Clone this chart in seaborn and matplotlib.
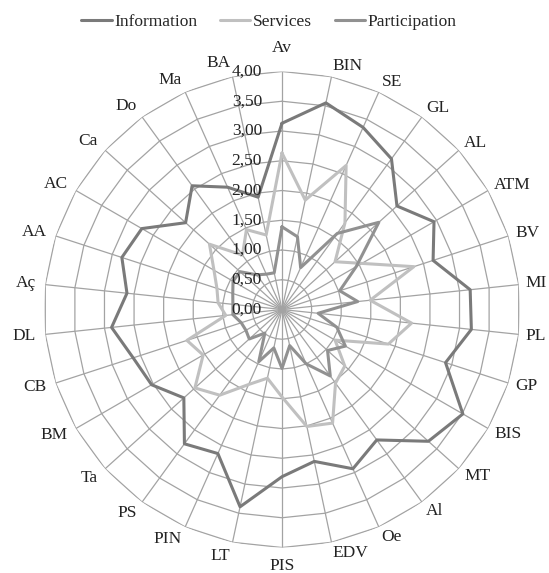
import numpy as np
import pandas as pd
import matplotlib
matplotlib.use("Agg")
import matplotlib.pyplot as plt
from matplotlib.lines import Line2D
import seaborn as sns

categories = ["Av", "BIN", "SE", "GL", "AL", "ATM", "BV", "MI", "PL", "GP",
              "BIS", "MT", "Al", "Oe", "EDV", "PIS", "LT", "PIN", "PS", "Ta",
              "BM", "CB", "DL", "Aç", "AA", "AC", "Ca", "Do", "Ma", "BA"]

information = [3.13, 3.55, 3.35, 3.13, 2.60, 2.95, 2.67, 3.18, 3.20, 2.89,
               3.51, 3.31, 2.71, 2.93, 2.61, 2.81, 3.39, 2.65, 2.79, 2.22,
               2.53, 2.63, 2.88, 2.62, 2.83, 2.72, 2.18, 2.57, 2.25, 1.93]

services = [2.63, 1.88, 2.65, 1.80, 1.20, 1.55, 2.33, 1.49, 2.19, 1.88,
            1.03, 1.42, 1.53, 2.09, 2.01, 1.47, 1.18, 1.38, 1.78, 1.97,
            1.53, 1.68, 0.95, 1.08, 1.15, 1.32, 1.64, 1.13, 1.47, 1.28]

participation = [1.39, 1.25, 0.77, 1.58, 2.19, 1.44, 1.02, 1.28, 0.61, 0.97,
                 1.23, 1.03, 1.38, 1.00, 0.62, 0.99, 0.66, 0.96, 0.49, 0.74,
                 0.70, 0.72, 0.83, 0.83, 0.87, 0.95, 0.95, 0.72, 0.65, 0.63]

series_names = ["Information", "Services", "Participation"]
series_colors = ["#7a7a7a", "#c0c0c0", "#919191"]

r_ticks = [0.0, 0.5, 1.0, 1.5, 2.0, 2.5, 3.0, 3.5, 4.0]
r_tick_labels = ["0,00", "0,50", "1,00", "1,50", "2,00", "2,50", "3,00", "3,50", "4,00"]

sns.set_style("white")
plt.rcParams["font.family"] = ["Liberation Serif", "DejaVu Serif"]
FS = 12.5

W, H = 549, 573
fig = plt.figure(figsize=(W / 100, H / 100), dpi=100)
cx, cy, R = 282, 309.5, 238
ax = fig.add_axes([(cx - R) / W, (H - cy - R) / H, 2 * R / W, 2 * R / H], projection="polar")
ax.set_theta_zero_location("N")
ax.set_theta_direction(-1)
ax.set_ylim(0, 4)
ax.grid(False)
ax.set_xticks([])
ax.set_yticks([])
ax.spines["polar"].set_visible(False)

n = len(categories)
angles = np.arange(n) * 2 * np.pi / n
ang_closed = np.append(angles, 2 * np.pi)

grid_col = "#a3a3a3"
for k in r_ticks[1:]:
    ax.plot(ang_closed, [k] * (n + 1), color=grid_col, lw=0.9, zorder=1)
for a in angles:
    ax.plot([a, a], [0, 4], color=grid_col, lw=0.9, zorder=1)

rows = []
for name, vals in zip(series_names, [information, services, participation]):
    vv = list(vals) + [vals[0]]
    for t, v in zip(ang_closed, vv):
        rows.append({"theta": t, "value": v, "series": name})
df = pd.DataFrame(rows)

sns.lineplot(data=df, x="theta", y="value", hue="series", hue_order=series_names,
             palette=dict(zip(series_names, series_colors)), sort=False,
             estimator=None, lw=2.2, legend=False, ax=ax, zorder=3)
ax.set_xlabel("")
ax.set_ylabel("")
ax.set_ylim(0, 4)
ax.set_xticks([])
ax.set_yticks([])

# radial value labels
for rv, lab in zip(r_ticks, r_tick_labels):
    ax.annotate(lab, xy=(0, rv), xytext=(-14.4, 0), textcoords="offset points",
                ha="right", va="center", fontsize=FS, color="#222222",
                annotation_clip=False, zorder=5)

# category labels
px_per_unit = R / 4.0
for a, lab in zip(angles, categories):
    s, c = np.sin(a), np.cos(a)
    if abs(s) < 1e-6:
        rr = (261.5 if c > 0 else 256.5) / px_per_unit
        ax.annotate(lab, xy=(a, rr), ha="center", va="center", fontsize=FS,
                    color="#222222", annotation_clip=False)
    else:
        rpx = 245 if s > 0 else 247.5
        ax.annotate(lab, xy=(a, rpx / px_per_unit), xytext=(0, 2.9 * c),
                    textcoords="offset points", ha="left" if s > 0 else "right",
                    va="center", fontsize=FS, color="#222222", annotation_clip=False)

handles = [Line2D([0], [0], color=col, lw=2.2) for col in series_colors]
fig.legend(handles, series_names, loc="center", bbox_to_anchor=(0.49, 1 - 22 / H),
           ncol=3, frameon=False, fontsize=FS, handlelength=1.75, handletextpad=0.15,
           columnspacing=1.3)

fig.savefig("out.png", dpi=100, facecolor="white")
